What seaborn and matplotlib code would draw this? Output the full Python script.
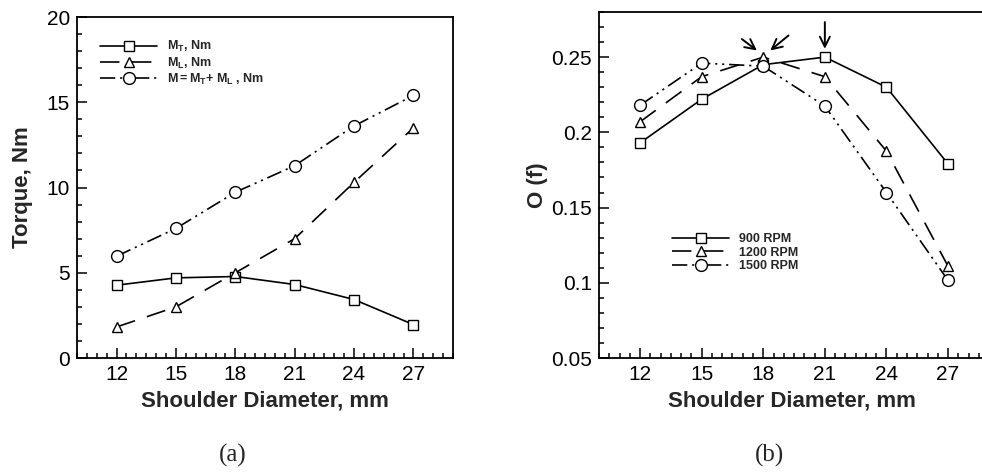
import matplotlib
matplotlib.use("Agg")
import matplotlib.pyplot as plt
import numpy as np
import pandas as pd
import seaborn as sns
from matplotlib.ticker import MultipleLocator

#%% Data
diameter = [12, 15, 18, 21, 24, 27]

# (a) torque, Nm
torque_MT = [4.27, 4.70, 4.78, 4.31, 3.43, 1.96]
torque_ML = [1.82, 3.00, 5.00, 7.00, 10.30, 13.50]
torque_M = [5.97, 7.60, 9.72, 11.28, 13.61, 15.40]
torque_labels = ['$M_T$, Nm', '$M_L$, Nm', '$M = M_T$+ $M_L$ , Nm']

# (b) O(f)
of_900 = [0.193, 0.222, 0.245, 0.250, 0.230, 0.179]
of_1200 = [0.207, 0.237, 0.250, 0.237, 0.1875, 0.111]
of_1500 = [0.218, 0.246, 0.244, 0.2175, 0.160, 0.1016]
rpm_labels = ['900 RPM', '1200 RPM', '1500 RPM']

# arrows in panel (b): (x_start, y_start, x_end, y_end)
arrows_b = [(16.96, 0.262, 17.69, 0.2544),
            (19.23, 0.2644, 18.34, 0.2544),
            (21.0, 0.2733, 21.0, 0.2555)]

#%% Style
sns.set_style("white")
plt.rcParams['font.family'] = ['Liberation Sans', 'DejaVu Sans']
plt.rcParams['mathtext.fontset'] = 'custom'
plt.rcParams['mathtext.rm'] = 'Liberation Sans:bold'
plt.rcParams['mathtext.it'] = 'Liberation Sans:bold'
plt.rcParams['mathtext.bf'] = 'Liberation Sans:bold'
plt.rcParams['lines.scale_dashes'] = False

styles = [
    dict(marker='s', ms=6.5, linestyle='-'),
    dict(marker='^', ms=7.5, linestyle=(0, (14, 9))),
    dict(marker='o', ms=8.5, linestyle=(0, (11, 3.5, 1.5, 3.5, 1.5, 3.5))),
]

fig = plt.figure(figsize=(9.82, 4.73), dpi=100)
ax1 = fig.add_axes([77/982, 115/473, 376/982, 341/473])
ax2 = fig.add_axes([599/982, 115/473, 386/982, 346/473])


def draw(ax, series, labels):
    for vals, lab, st in zip(series, labels, styles):
        df = pd.DataFrame({'x': diameter, 'y': vals})
        sns.lineplot(data=df, x='x', y='y', ax=ax, color='black', lw=1.2,
                     marker=st['marker'], ms=st['ms'], mfc='white', mec='black',
                     mew=1.0, linestyle=st['linestyle'], label=lab)


def axes_setting(ax):
    for side in ['left', 'bottom', 'top', 'right']:
        ax.spines[side].set_color('black')
        ax.spines[side].set_linewidth(1.3)
    ax.tick_params(which='both', direction='in', bottom=True, left=True,
                   top=False, right=False, labelsize=15, colors='black', width=1.1)
    ax.tick_params(which='major', length=7, pad=5)
    ax.tick_params(which='minor', length=3.5)
    ax.set_xticks(diameter)
    ax.xaxis.set_minor_locator(MultipleLocator(0.5))
    ax.set_xlabel('Shoulder Diameter, mm', fontsize=16, fontweight='bold', labelpad=5)


def legend_setting(ax, anchor):
    ax.legend(loc='upper left', bbox_to_anchor=anchor, frameon=False,
              handlelength=4.6, handletextpad=0.8, labelspacing=0.1,
              borderpad=0, borderaxespad=0,
              prop={'size': 9, 'weight': 'bold'})


#%% Panel (a)
draw(ax1, [torque_MT, torque_ML, torque_M], torque_labels)
axes_setting(ax1)
ax1.set_xlim(10, 29)
ax1.set_ylim(0, 20)
ax1.yaxis.set_major_locator(MultipleLocator(5))
ax1.yaxis.set_minor_locator(MultipleLocator(1))
ax1.set_ylabel('Torque, Nm', fontsize=16, fontweight='bold', labelpad=10)
legend_setting(ax1, (0.061, 0.935))

#%% Panel (b)
draw(ax2, [of_900, of_1200, of_1500], rpm_labels)
axes_setting(ax2)
ax2.spines['right'].set_visible(False)
ax2.set_xlim(10, 28.8)
ax2.set_ylim(0.05, 0.28)
ax2.set_yticks([0.05, 0.1, 0.15, 0.2, 0.25])
ax2.set_yticklabels(['0.05', '0.1', '0.15', '0.2', '0.25'])
ax2.yaxis.set_minor_locator(MultipleLocator(0.01))
ax2.set_ylabel('O (f)', fontsize=16, fontweight='bold', labelpad=2)
legend_setting(ax2, (0.189, 0.36))
for x0, y0, x1, y1 in arrows_b:
    ax2.annotate('', xy=(x1, y1), xytext=(x0, y0),
                 arrowprops=dict(arrowstyle='->', color='black', lw=1.4,
                                 mutation_scale=18, shrinkA=0, shrinkB=0))

#%% Panel letters
fig.text(233/982, 1 - 455/473, '(a)', family='Liberation Serif', fontsize=18,
         ha='center', va='center')
fig.text(770/982, 1 - 455/473, '(b)', family='Liberation Serif', fontsize=18,
         ha='center', va='center')

fig.savefig('out.png', dpi=100)
